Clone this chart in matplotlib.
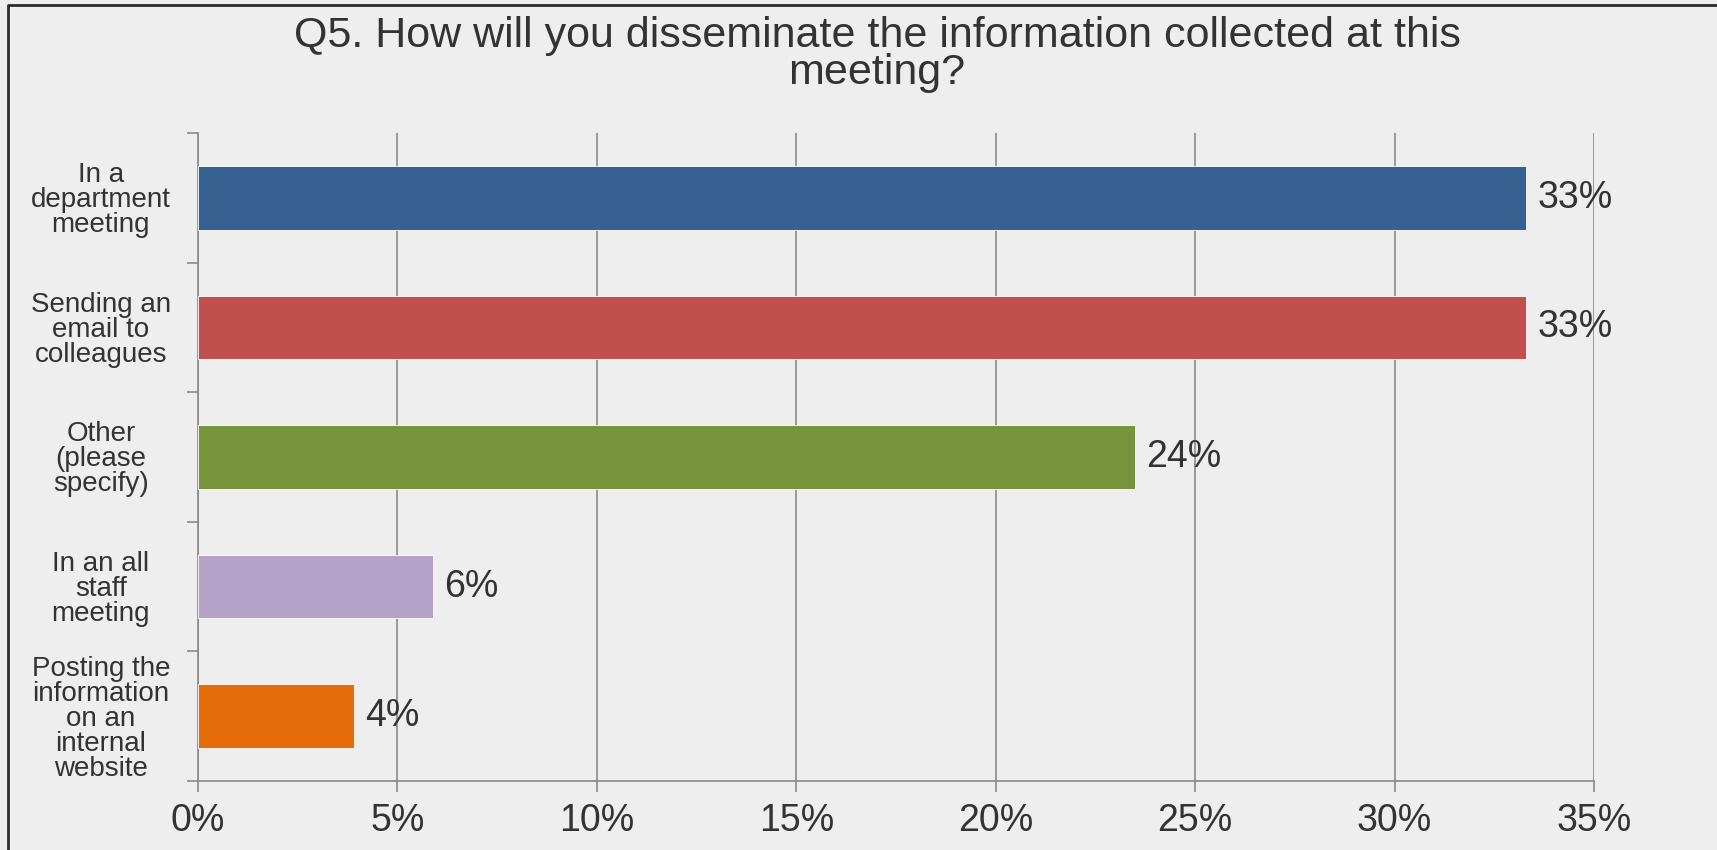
import matplotlib.pyplot as plt
from matplotlib.lines import Line2D
from matplotlib.ticker import FixedLocator

plt.rcParams['font.family'] = ['Liberation Sans', 'DejaVu Sans']

# Survey answers, top to bottom
answers = [
    'In a\ndepartment\nmeeting',
    'Sending an\nemail to\ncolleagues',
    'Other\n(please\nspecify)',
    'In an all\nstaff\nmeeting',
    'Posting the\ninformation\non an\ninternal\nwebsite',
]
share = [33.3, 33.3, 23.5, 5.9, 3.9]   # percent of respondents
bar_colors = ['#35608F', '#C0504D', '#77933C', '#B3A2C7', '#E46C0A']
xticks = [0, 5, 10, 15, 20, 25, 30, 35]
title_lines = ['Q5. How will you disseminate the information collected at this',
               'meeting?']

BG = '#EEEEEE'
GRID = '#8A8A8A'
TXT = '#333333'

fig = plt.figure(figsize=(17.17, 8.5), dpi=100, facecolor=BG)
# chart frame: only its top and left edges are inside the image
fx, fy = 8 / 1717, 1 - 5 / 850
fig.lines.append(Line2D([fx, fx, 1.0], [0.0, fy, fy], transform=fig.transFigure,
                        color='#2B2B2B', linewidth=2))

ax = fig.add_axes([198 / 1717, 1 - 781 / 850, (1594 - 198) / 1717, (781 - 133) / 850])
ax.set_facecolor(BG)

pos = list(range(len(answers)))
ax.barh(pos, share, height=0.49, color=bar_colors,
        edgecolor='white', linewidth=0.6, zorder=3)

for y, v in zip(pos, share):
    ax.text(v + 0.28, y, f'{v:.0f}%', va='center', ha='left',
            fontsize=27, color=TXT, zorder=4)

ax.set_xlim(0, 35)
ax.set_ylim(len(answers) - 0.5, -0.5)

ax.set_xticks(xticks)
ax.set_xticklabels([f'{t}%' for t in xticks], fontsize=27, color=TXT)
ax.tick_params(axis='x', length=8, width=1.2, color=GRID, pad=8, direction='out')

ax.set_yticks(pos)
ax.set_yticklabels(answers, fontsize=20, color=TXT, ha='center',
                   linespacing=0.95)
ax.tick_params(axis='y', which='major', length=0, pad=70)
ax.yaxis.set_minor_locator(FixedLocator([p - 0.5 for p in pos] + [len(pos) - 0.5]))
ax.tick_params(axis='y', which='minor', length=8, width=1.2, color=GRID)

ax.grid(axis='x', color=GRID, linewidth=1.2, zorder=1)
for side in ['top', 'right']:
    ax.spines[side].set_visible(False)
for side in ['left', 'bottom']:
    ax.spines[side].set_color(GRID)
    ax.spines[side].set_linewidth(1.2)

# two-line title, both lines centred on the same x
for line, base in zip(title_lines, [47, 84]):
    fig.text(877 / 1717, 1 - base / 850, line, ha='center', va='baseline',
             fontsize=31, color=TXT)

fig.savefig('out.png', dpi=100, facecolor=BG)
